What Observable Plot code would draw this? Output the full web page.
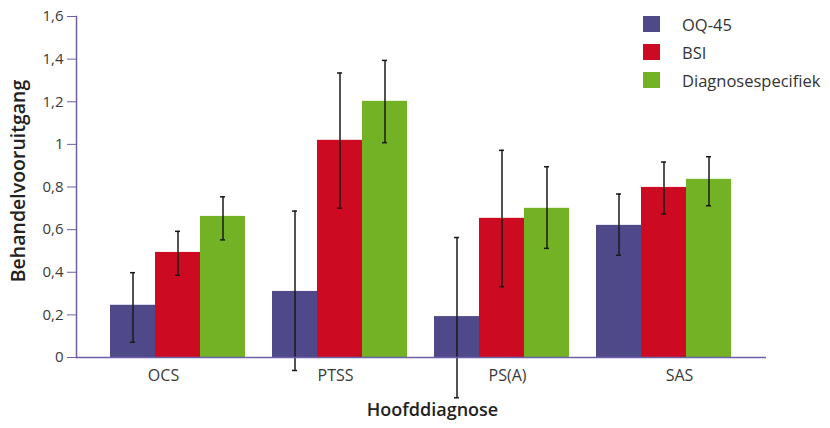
<!DOCTYPE html>
<html>
<head>
<meta charset="utf-8">
<script src="https://cdn.jsdelivr.net/npm/d3@7"></script>
<script src="https://cdn.jsdelivr.net/npm/@observablehq/plot@0.6"></script>
<style>
  html, body { margin: 0; padding: 0; background: #fff; }
  #wrap { position: relative; width: 830px; height: 428px; font-family: "Open Sans", "Noto Sans", sans-serif; }
  #wrap svg { position: absolute; left: 0; top: 0; font-family: "Open Sans", "Noto Sans", sans-serif; font-variant-numeric: oldstyle-nums; }
  #legend { position: absolute; left: 643px; top: 16px; }
  .item { display: flex; align-items: center; height: 16px; margin-bottom: 12px; font-size: 16.5px; color: #333; white-space: nowrap; }
  .sw { width: 17px; height: 16px; margin-right: 22px; flex: none; }
</style>
</head>
<body>
<div id="wrap"><div id="legend"></div></div>
<script>
const diagnoses = ["OCS", "PTSS", "PS(A)", "SAS"];
const series = ["OQ-45", "BSI", "Diagnosespecifiek"];
const colors = ["#4f498a", "#cc0a21", "#72b224"];
const yTicks = [0, 0.2, 0.4, 0.6, 0.8, 1, 1.2, 1.4, 1.6];

const oq45   = [0.245, 0.31, 0.192, 0.62];
const oq45Lo = [0.072, -0.061, -0.189, 0.48];
const oq45Hi = [0.398, 0.687, 0.563, 0.767];

const bsi    = [0.493, 1.019, 0.653, 0.798];
const bsiLo  = [0.386, 0.701, 0.332, 0.673];
const bsiHi  = [0.592, 1.335, 0.972, 0.917];

const spec   = [0.662, 1.202, 0.70, 0.836];
const specLo = [0.552, 1.008, 0.512, 0.712];
const specHi = [0.754, 1.394, 0.895, 0.942];

const vals = [oq45, bsi, spec], los = [oq45Lo, bsiLo, specLo], his = [oq45Hi, bsiHi, specHi];
const data = [];
diagnoses.forEach((d, i) => series.forEach((s, j) => data.push({diag: d, series: s, value: vals[j][i], lo: los[j][i], hi: his[j][i]})));

const axisColor = "#6a62a8";
const fmt = d => String(d).replace(".", ",");
const layout = {width: 830, height: 428, marginLeft: 76, marginRight: 64, marginTop: 16, marginBottom: 71};
const band = {domain: diagnoses, paddingInner: 0.154, paddingOuter: 0.2};

// Bars and error bars (faceted by diagnosis)
const bars = Plot.plot({
  ...layout,
  style: {fontSize: "15px", background: "transparent"},
  fx: {...band, axis: null},
  x: {domain: series, padding: 0, axis: null},
  y: {domain: [0, 1.6], axis: null},
  color: {domain: series, range: colors},
  marks: [
    Plot.barY(data, {fx: "diag", x: "series", y: "value", fill: "series"}),
    Plot.ruleX(data, {fx: "diag", x: "series", y1: "lo", y2: "hi", stroke: "#1a1a1a", strokeWidth: 1.5}),
    Plot.tickY(data, {fx: "diag", x: "series", y: "lo", stroke: "#1a1a1a", strokeWidth: 1.5, insetLeft: 20, insetRight: 20}),
    Plot.tickY(data, {fx: "diag", x: "series", y: "hi", stroke: "#1a1a1a", strokeWidth: 1.5, insetLeft: 20, insetRight: 20})
  ]
});

// Axes and titles
const axes = Plot.plot({
  ...layout,
  style: {fontSize: "15px", background: "transparent", color: "#3a3a3a"},
  x: {...band, axis: null},
  y: {domain: [0, 1.6], axis: null},
  marks: [
    Plot.ruleY([0], {stroke: axisColor, strokeWidth: 1.5}),
    Plot.frame({anchor: "left", stroke: axisColor, strokeWidth: 1.5}),
    Plot.axisY({ticks: yTicks, tickFormat: fmt, tickSize: 9, tickPadding: 4, stroke: axisColor, fill: "#3a3a3a", label: null}),
    Plot.axisX({tickSize: 0, tickPadding: 12, fill: "#3a3a3a", fontSize: 16, label: null}),
    Plot.text(["Behandelvooruitgang"], {frameAnchor: "left", textAnchor: "middle", rotate: -90, dx: -58, dy: -6, fontWeight: 600, fontSize: 19.5, fill: "#222"}),
    Plot.text(["Hoofddiagnose"], {frameAnchor: "bottom", dy: 58, dx: 11, fontWeight: 600, fontSize: 18, fill: "#222"})
  ]
});

const wrap = document.getElementById("wrap");
wrap.prepend(axes);
wrap.prepend(bars);

const legend = document.getElementById("legend");
series.forEach((s, i) => {
  const it = document.createElement("div");
  it.className = "item";
  it.innerHTML = `<span class="sw" style="background:${colors[i]}"></span><span>${s}</span>`;
  legend.appendChild(it);
});
</script>
</body>
</html>
